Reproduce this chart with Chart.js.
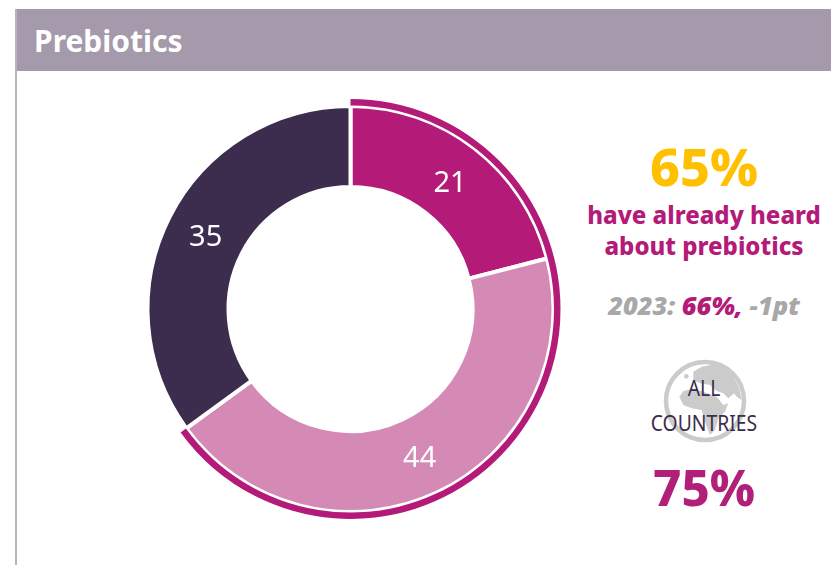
<!DOCTYPE html>
<html>
<head>
<meta charset="utf-8">
<title>Prebiotics</title>
<script src="https://cdn.jsdelivr.net/npm/chart.js@4"></script>
<style>
  html, body { margin: 0; padding: 0; background: #fff; }
  body { width: 831px; height: 565px; overflow: hidden; position: relative; font-family: "Noto Sans", sans-serif; }
  #frame { position: absolute; left: 15px; top: 9px; width: 2px; height: 556px; background: #b9b3c0; }
  #header { position: absolute; left: 15px; top: 9px; width: 816px; height: 62px; background: #a59aab; }
  #title { position: absolute; left: 34px; top: 21px; color: #fff; font-size: 30px; line-height: 40px; font-weight: 700; }
  #chartWrap { position: absolute; left: 135px; top: 94px; width: 431px; height: 430px; }
  .side { position: absolute; text-align: center; white-space: nowrap; }
  #big { left: 604px; width: 200px; top: 130px; font-size: 52px; line-height: 72px; font-weight: 800; color: #ffc000; }
  #heard { left: 574px; width: 260px; top: 199px; font-size: 24px; line-height: 31px; font-weight: 800; color: #b41a78; }
  #prev { left: 574px; width: 260px; top: 287px; font-size: 25.5px; line-height: 36px; font-weight: 900; font-style: italic; color: #a8a8a8; }
  #prev b { color: #b41a78; font-weight: 900; }
  #globe { position: absolute; left: 662px; top: 358px; }
  #allLabel { left: 604px; width: 200px; top: 371px; font-size: 21px; line-height: 35px; color: #3c2c4e; transform: scaleX(0.92); }
  #allValue { left: 604px; width: 200px; top: 451px; font-size: 49px; line-height: 72px; font-weight: 800; color: #b01f78; }
</style>
</head>
<body>
<div id="header"></div>
<div id="frame"></div>
<div id="title"></div>
<div id="chartWrap"><canvas id="donut" width="431" height="430"></canvas></div>

<div class="side" id="big"></div>
<div class="side" id="heard">have already heard<br>about prebiotics</div>
<div class="side" id="prev"></div>

<svg id="globe" width="86" height="86" viewBox="0 0 86 86">
  <circle cx="43" cy="43" r="39" fill="none" stroke="#cbcbcb" stroke-width="4.5"/>
  <g fill="#cbcbcb" transform="translate(-2,-3) scale(0.3333)">
    <path d="M100 50 L125 35 L165 28 L195 38 L220 65 L238 100 L245 135 L230 125 L222 115 L205 130 L190 115 L170 108 L150 90 L120 85 L100 75 Z"/>
    <path d="M58 125 L70 108 L95 103 L125 108 L150 118 L170 125 L190 150 L205 145 L195 170 L175 190 L165 225 L150 240 L135 200 L125 165 L95 160 L70 150 Z"/>
    <circle cx="79" cy="64" r="7"/>
  </g>
</svg>
<div class="side" id="allLabel">ALL<br>COUNTRIES</div>
<div class="side" id="allValue"></div>

<script>
const pageTitle = "Prebiotics";
const segments = ["Heard and know", "Heard only", "Never heard"];
const segmentValues = [21, 44, 35];
const segmentColors = ["#b41a78", "#d58ab5", "#3c2c4e"];

const heardPct = 65;
const prevYear = 2023;
const prevPct = 66;
const changePts = -1;
const allCountriesPct = 75;

document.getElementById("title").textContent = pageTitle;
document.getElementById("big").textContent = heardPct + "%";
document.getElementById("allValue").textContent = allCountriesPct + "%";
document.getElementById("prev").innerHTML =
  prevYear + ": <b>" + prevPct + "%,</b> " + changePts + "pt";

// writes each share in the middle of its slice
const sliceLabels = {
  id: "sliceLabels",
  afterDatasetsDraw(chart) {
    const ctx = chart.ctx;
    const meta = chart.getDatasetMeta(2);
    ctx.save();
    ctx.fillStyle = "#fff";
    ctx.font = '400 29px "Noto Sans"';
    ctx.textAlign = "center";
    ctx.textBaseline = "middle";
    meta.data.forEach((arc, i) => {
      const p = arc.getCenterPoint();
      ctx.fillText(segmentValues[i], p.x, p.y + 3);
    });
    ctx.restore();
  },
};

new Chart(document.getElementById("donut"), {
  type: "doughnut",
  data: {
    labels: segments,
    datasets: [
      // thin ring around the slices that count as "heard"
      { data: [heardPct, 100 - heardPct], backgroundColor: ["#b41a78", "rgba(0,0,0,0)"], borderWidth: 0, weight: 6.5 },
      { data: [100], backgroundColor: ["rgba(0,0,0,0)"], borderWidth: 0, weight: 0.5 },
      { data: segmentValues, backgroundColor: segmentColors, borderColor: "#fff", borderWidth: 4, weight: 81 },
    ],
  },
  options: {
    responsive: false,
    animation: false,
    cutout: 122,
    layout: { padding: 5 },
    plugins: { legend: { display: false }, tooltip: { enabled: false } },
  },
  plugins: [sliceLabels],
});
</script>
</body>
</html>
